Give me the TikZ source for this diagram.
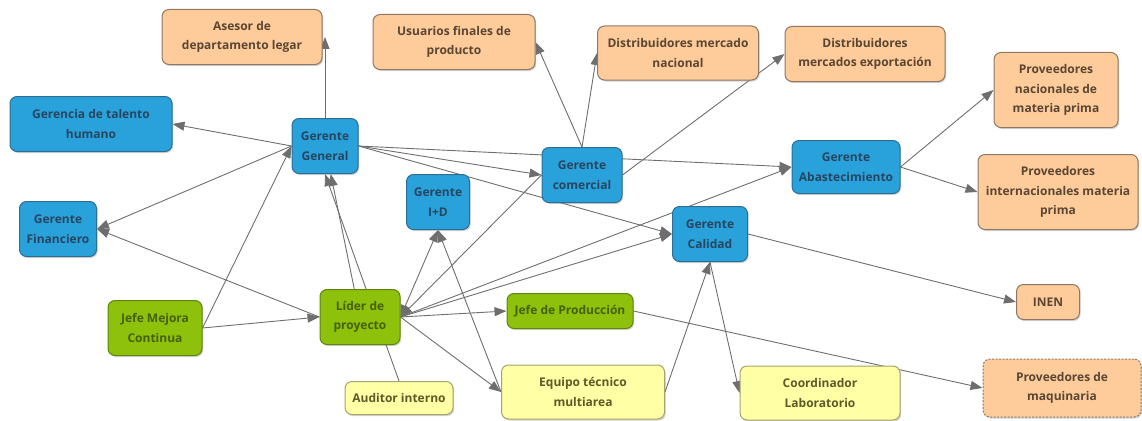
\documentclass[tikz,border=0pt]{standalone}
\usepackage{fontspec}
\setmainfont{Open Sans}
\usepackage{tikz}
\usetikzlibrary{arrows.meta,shadows,backgrounds}

\definecolor{peach}{HTML}{FECB9A}
\definecolor{peachline}{HTML}{8F7863}
\definecolor{peachtext}{HTML}{5A4632}
\definecolor{sky}{HTML}{29A2DB}
\definecolor{skyline}{HTML}{2C6E93}
\definecolor{skytext}{HTML}{284560}
\definecolor{lime}{HTML}{8DC10C}
\definecolor{limeline}{HTML}{5F850E}
\definecolor{limetext}{HTML}{46600A}
\definecolor{cream}{HTML}{FFFFA6}
\definecolor{creamline}{HTML}{A3A36E}
\definecolor{creamtext}{HTML}{5D5A27}
\definecolor{link}{HTML}{6E6E6E}

\begin{document}
\begin{tikzpicture}[x=1pt, y=-1pt, >={Triangle[length=12pt,width=9pt]}]
				\tikzstyle{box}=[draw, line width=1pt, rounded corners=7pt, align=center, inner sep=3pt,
					font=\fontsize{12}{19.5}\selectfont\bfseries,
					drop shadow={shadow xshift=1.2pt, shadow yshift=-1.5pt, opacity=0.35}]
				\tikzstyle{ext}=[box, fill=peach, draw=peachline, text=peachtext]
				\tikzstyle{boss}=[box, fill=sky, draw=skyline, text=skytext]
				\tikzstyle{lead}=[box, fill=lime, draw=limeline, text=limetext]
				\tikzstyle{team}=[box, fill=cream, draw=creamline, text=creamtext]
				\tikzstyle{link}=[draw=link, line width=0.9pt]
				\useasboundingbox (0,0) rectangle (1142,420);
				%External parties
				\node[ext](asesor)[minimum width=160pt, minimum height=55pt] at (242,37){Asesor de\\departamento legar};
				\node[ext](usuarios)[minimum width=162pt, minimum height=55pt] at (454,42){Usuarios finales de\\producto};
				\node[ext](distnac)[minimum width=161pt, minimum height=54pt] at (678,53){Distribuidores mercado\\nacional};
				\node[ext](distexp)[minimum width=160pt, minimum height=55pt] at (865,54){Distribuidores\\mercados exportación};
				\node[ext](provnac)[minimum width=124pt, minimum height=75pt] at (1056,90){Proveedores\\nacionales de\\materia prima};
				\node[ext](provint)[minimum width=160pt, minimum height=75pt] at (1058,192){Proveedores\\internacionales materia\\prima};
				\node[ext](inen)[minimum width=63pt, minimum height=35pt] at (1048,302){INEN};
				\node[ext](provmaq)[minimum width=158pt, minimum height=58pt, dash pattern=on 2pt off 1.5pt] at (1062,388){Proveedores de\\maquinaria};
				%Managers
				\node[boss](talento)[minimum width=162pt, minimum height=55pt] at (91,124){Gerencia de talento\\humano};
				\node[boss](gg)[minimum width=66pt, minimum height=55pt] at (325,146){Gerente\\General};
				\node[boss](gcom)[minimum width=80pt, minimum height=55pt] at (582,175){Gerente\\comercial};
				\node[boss](gabast)[minimum width=108pt, minimum height=53pt] at (846,167){Gerente\\Abastecimiento};
				\node[boss](gid)[minimum width=63pt, minimum height=55pt] at (438,202){Gerente\\I+D};
				\node[boss](gfin)[minimum width=77pt, minimum height=55pt] at (58,229){Gerente\\Financiero};
				\node[boss](gcal)[minimum width=75pt, minimum height=55pt] at (710,234){Gerente\\Calidad};
				%Leaders
				\node[lead](jmejora)[minimum width=94pt, minimum height=55pt] at (155,328){Jefe Mejora\\Continua};
				\node[lead](lider)[minimum width=80pt, minimum height=55pt] at (360,317){Líder de\\proyecto};
				\node[lead](jprod)[minimum width=126pt, minimum height=35pt] at (570,311){Jefe de Producción};
				%Teams
				\node[team](auditor)[minimum width=108pt, minimum height=33pt] at (399,398){Auditor interno};
				\node[team](equipo)[minimum width=163pt, minimum height=54pt] at (583,392){Equipo técnico\\multiarea};
				\node[team](coord)[minimum width=160pt, minimum height=54pt] at (820,393){Coordinador\\Laboratorio};
				%Connections
				\begin{pgfonlayer}{background}
				\draw[link,->] (gg.north) -- (gg.north |- asesor.east);
				\draw[link,->] (gg.west) -- (talento.east);
				\draw[link,->] (gg.west) -- (gfin.east);
				\draw[link,->] (gg.east) -- (gcom.west);
				\draw[link,->] (gg.east) -- (gabast.west);
				\draw[link,->] (gg.east) -- (gcal.west);
				\draw[link,->] (gcom.north) -- (usuarios.east);
				\draw[link,->] (gcom.north) -- (distnac.west);
				\draw[link,->] (gcom.east) -- (distexp.west);
				\draw[link,->] (gcom.west) -- (lider.east);
				\draw[link,->] (gabast.east) -- (provnac.west);
				\draw[link,->] (gabast.east) -- (provint.west);
				\draw[link,->] (gcal.east) -- (inen.west);
				\draw[link,->] (gcal.south) -- (coord.west);
				\draw[link,->] (jmejora.east) -- (gg.west);
				\draw[link,->] (jmejora.east) -- (lider.west);
				\draw[link,->] (lider) -- (gg);
				\draw[link,->] (auditor.north) -- (gg.south);
				\draw[link,->] (lider.west) -- (gfin.east);
				\draw[link,<->] (lider.east) -- (gid.south);
				\draw[link,->] (lider.east) -- (gabast.west);
				\draw[link,->] (lider.east) -- (gcal.west);
				\draw[link,->] (lider.east) -- (jprod.west);
				\draw[link,->] (lider.east) -- (equipo.west);
				\draw[link,->] (equipo.west) -- (gid.south);
				\draw[link,->] (equipo.east) -- (gcal.south);
				\draw[link,->] (jprod.east) -- (provmaq.west);
				\end{pgfonlayer}
\end{tikzpicture}
\end{document}
